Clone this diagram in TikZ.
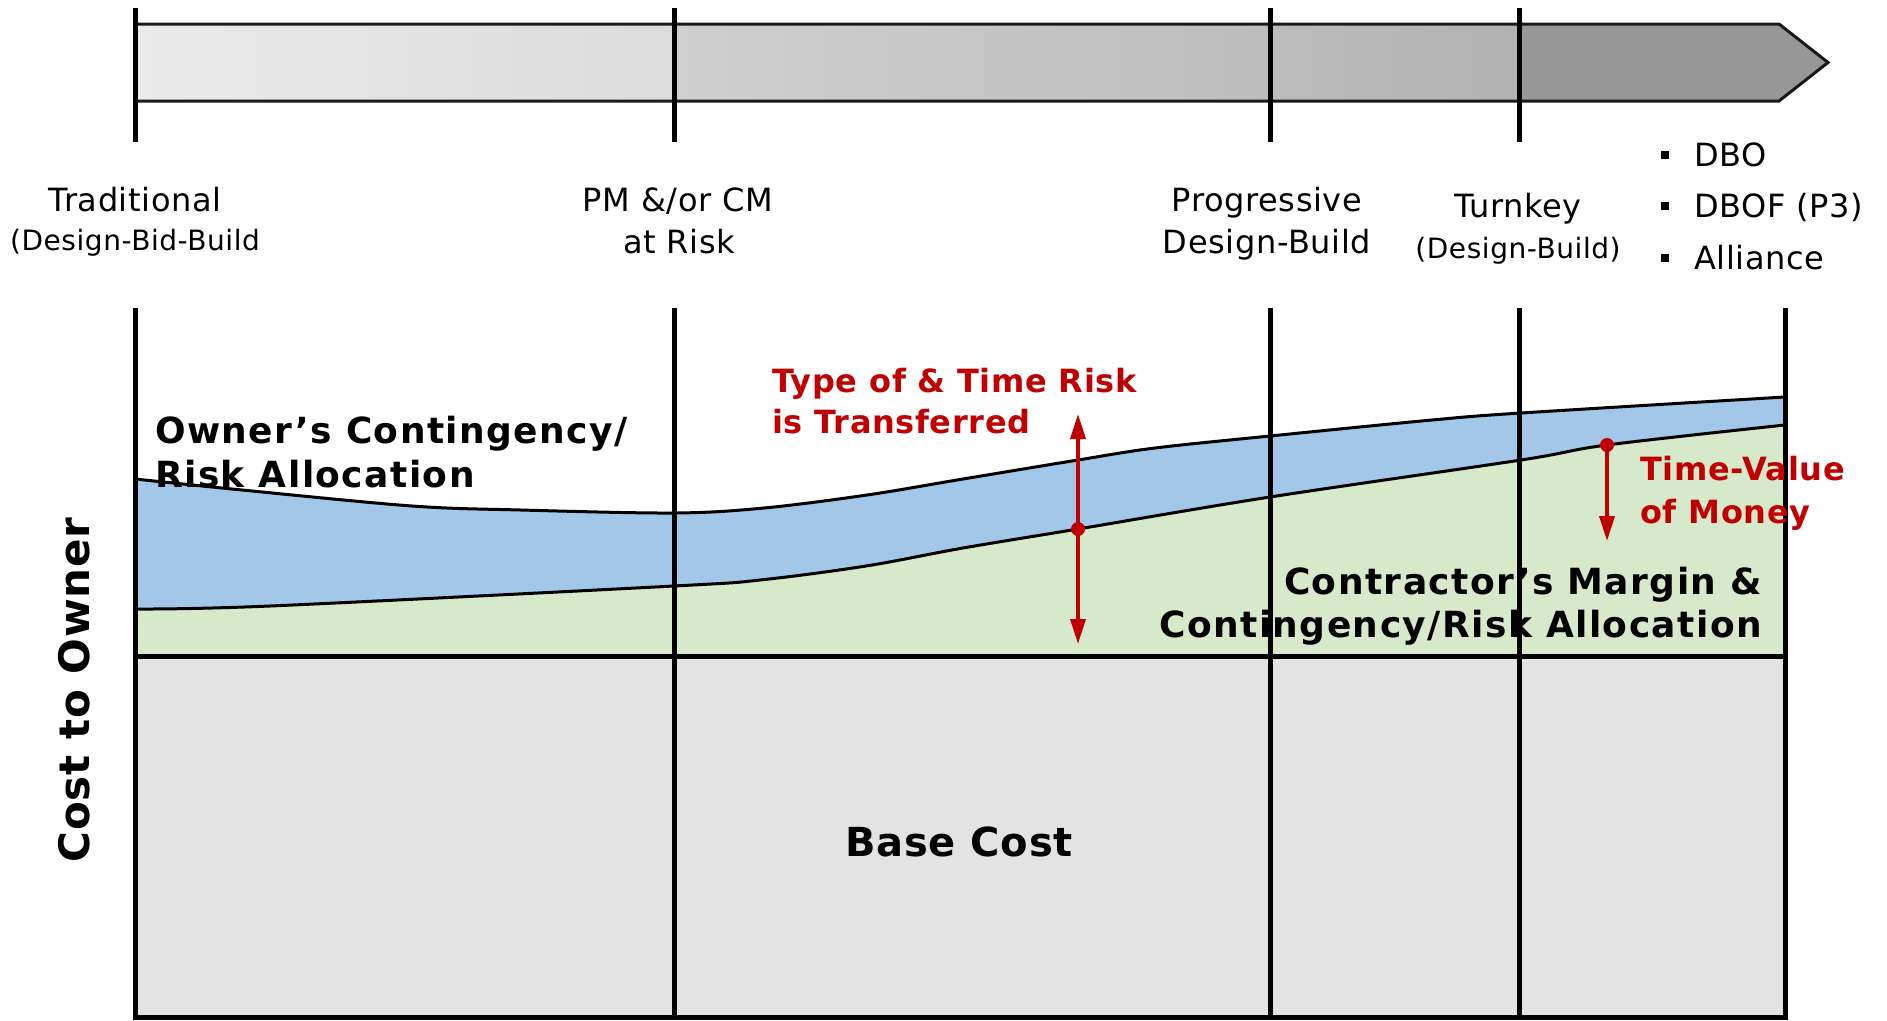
\documentclass[tikz,border=0pt]{standalone}
\usepackage{fontspec}
\setmainfont{DejaVu Sans}[LetterSpace=2]
\newfontfamily\wfont{DejaVu Sans}[LetterSpace=4]
\usetikzlibrary{arrows.meta}
\definecolor{barA}{HTML}{EAEAEA}
\definecolor{barB}{HTML}{DBDBDB}
\definecolor{barC}{HTML}{CFCFCF}
\definecolor{barD}{HTML}{BDBDBD}
\definecolor{barE}{HTML}{BBBBBB}
\definecolor{barF}{HTML}{B2B2B2}
\definecolor{barG}{HTML}{979797}
\definecolor{riskblue}{HTML}{A3C7E8}
\definecolor{margreen}{HTML}{D6E9CB}
\definecolor{basegrey}{HTML}{E3E3E3}
\definecolor{riskred}{HTML}{C00000}
\tikzset{
  lab/.style={font=\fontsize{32}{38}\selectfont, inner sep=0pt, anchor=base},
  sublab/.style={font=\fontsize{28}{34}\selectfont, inner sep=0pt, anchor=base},
  bigbold/.style={font=\wfont\bfseries\fontsize{36}{44}\selectfont, inner sep=0pt},
  redlab/.style={font=\bfseries\fontsize{32}{40}\selectfont, text=riskred, inner sep=0pt, anchor=base west},
  divider/.style={line width=5pt, black},
  curve/.style={line width=3pt, black},
  redarrow/.style={line width=3.5pt, riskred, -{Triangle[length=25pt,width=15pt]}},
  reddot/.style={circle, fill=riskred, inner sep=0pt, minimum size=14pt},
  bulletsq/.style={fill=black, inner sep=0pt, minimum size=8pt}
}
\begin{document}
\begin{tikzpicture}[x=1pt,y=-1pt]
\useasboundingbox (0,0) rectangle (1887,1020);
% ---- top progress bar ----
\shade[left color=barA, right color=barB] (135,24) rectangle (674,101);
\shade[left color=barC, right color=barD] (674,24) rectangle (1270,101);
\shade[left color=barE, right color=barF] (1270,24) rectangle (1519,101);
\fill[barG] (1519,24) -- (1779,24) -- (1828,62.5) -- (1779,101) -- (1519,101) -- cycle;
\draw[line width=3pt, black!90, line join=miter] (135,24) -- (1779,24) -- (1828,62.5) -- (1779,101) -- (135,101);
\foreach \xx in {135,674,1270,1519} \draw[divider] (\xx,8) -- (\xx,142);
% ---- top labels ----
\node[lab] (trad) at (135,211) {Traditional};
\node[sublab] (dbb) at (135,250) {(Design-Bid-Build};
\node[lab] (pm) at (678,211) {PM \&/or CM};
\node[lab] (atrisk) at (679,253) {at Risk};
\node[lab] (prog) at (1267,211) {Progressive};
\node[lab] (pdb) at (1267,253) {Design-Build};
\node[lab] (turn) at (1518,217) {Turnkey};
\node[sublab] (tdb) at (1518,258) {(Design-Build)};
\node[bulletsq] (b1) at (1665,155) {};
\node[bulletsq] (b2) at (1665,206) {};
\node[bulletsq] (b3) at (1665,258) {};
\node[lab, anchor=base west] (dbo) at (1694,166) {DBO};
\node[lab, anchor=base west] (dbof) at (1694,217) {DBOF (P3)};
\node[lab, anchor=base west] (all) at (1694,269) {Alliance};
% ---- chart areas ----
\def\topcurve{(135,479) (242,490) (412,506) (521,510) (674,513) (764,508) (867,495) (963,479) (1078,460) (1155,448) (1270,436) (1432,420) (1521,413) (1785,397)}
\def\lowcurve{(135,609) (270,606) (674,586) (760,580) (866,566) (963,548) (1078,529) (1270,497) (1521,460) (1607,445) (1785,425)}
\def\lowcurverev{(1785,425) (1607,445) (1521,460) (1270,497) (1078,529) (963,548) (866,566) (760,580) (674,586) (270,606) (135,609)}
\fill[basegrey] (135,656) rectangle (1785,1017);
\fill[margreen] plot[smooth, tension=0.55] coordinates {\lowcurve}
  -- (1785,656) -- (135,656) -- cycle;
\fill[riskblue] plot[smooth, tension=0.55] coordinates {\topcurve}
  -- plot[smooth, tension=0.55] coordinates {\lowcurverev} -- cycle;
\draw[curve] plot[smooth, tension=0.55] coordinates {\topcurve};
\draw[curve] plot[smooth, tension=0.55] coordinates {\lowcurve};
\draw[divider] (135,656) -- (1785,656);
\draw[divider] (132.5,1017) -- (1787.5,1017);
\foreach \xx in {135,674,1270,1519,1785} \draw[divider] (\xx,308) -- (\xx,1020);
% ---- chart labels ----
\node[bigbold, anchor=base west] (own1) at (155,443) {Owner’s Contingency/};
\node[bigbold, anchor=base west] (own2) at (155,487) {Risk Allocation};
\node[bigbold, anchor=base east] (con1) at (1762,594) {Contractor’s Margin \&};
\node[bigbold, anchor=base east] (con2) at (1762,637) {Contingency/Risk Allocation};
\node[font=\bfseries\fontsize{40}{48}\selectfont, inner sep=0pt, anchor=base] (base) at (959,856) {Base Cost};
\node[font=\bfseries\fontsize{42}{50}\selectfont, inner sep=0pt, anchor=base, rotate=90] (yax) at (89,690) {Cost to Owner};
\node[redlab] (typ1) at (772,392) {Type of \& Time Risk};
\node[redlab] (typ2) at (772,433) {is Transferred};
\node[redlab] (tv1) at (1640,480) {Time-Value};
\node[redlab] (tv2) at (1640,523) {of Money};
% ---- red arrows ----
\coordinate (up1) at (1078,414);
\coordinate (dn1) at (1078,644);
\coordinate (dn2) at (1607,541);
\node[reddot] (dot1) at (1078,529) {};
\node[reddot] (dot2) at (1607,445) {};
\draw[redarrow] (dot1.center) -- (up1);
\draw[redarrow] (dot1.center) -- (dn1);
\draw[redarrow] (dot2.center) -- (dn2);
\end{tikzpicture}
\end{document}
